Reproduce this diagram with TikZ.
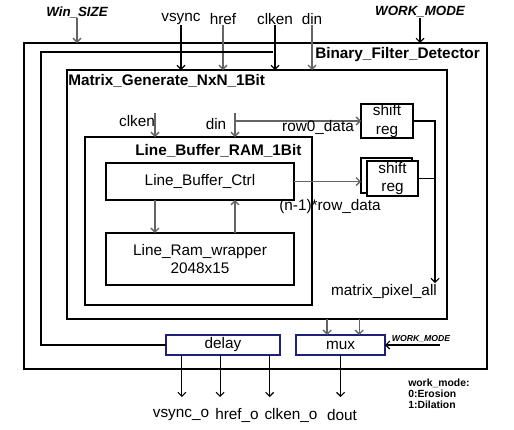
\documentclass[tikz,border=0pt]{standalone}
\usepackage{fontspec}
\setmainfont{Liberation Sans}
\usetikzlibrary{arrows.meta,calc}

\definecolor{boxblue}{RGB}{31,31,122}
\definecolor{arrgray}{RGB}{100,100,100}
\newcommand\lblfont{\fontsize{11.5}{14}\selectfont}
\newcommand\ttlfont{\fontsize{11.5}{14}\selectfont\bfseries}

\tikzset{
  sz/.style 2 args={minimum width=#1*0.75pt, minimum height=#2*0.75pt},
  frame/.style={draw, line width=2.2pt, inner sep=0pt, outer sep=0pt},
  blk/.style={draw, line width=0.9pt, fill=white, inner sep=0pt, outer sep=0pt, align=center, font=\lblfont},
  pbox/.style={blk, draw=boxblue},
  txt/.style={inner sep=0pt, font=\lblfont},
  sig/.style={draw, line width=0.8pt, -{Straight Barb[length=3pt,width=6pt]}},
  gsig/.style={sig, draw=arrgray, line width=1pt},
}

\begin{document}
\begin{tikzpicture}[x=0.75pt,y=-0.75pt]
\useasboundingbox (0,0) rectangle (514,429);

% frames
\node[frame, sz={463}{326}] (bfd) at (255.5,206) {};
\node[frame, sz={380}{249}] (mgen) at (257,194.5) {};
\node[frame, sz={227}{168}] (lbr) at (198.5,221) {};
\node[txt, font=\ttlfont, anchor=west] (bfdname) at (315,55) {Binary\_Filter\_Detector};
\node[txt, font=\ttlfont, anchor=west] (mgenname) at (68,81) {Matrix\_Generate\_NxN\_1Bit};
\node[txt, font=\ttlfont, anchor=west] (lbrname) at (135,151) {Line\_Buffer\_RAM\_1Bit};

% blocks
\node[blk, sz={188}{37}] (ctrl) at (200,181.5) {Line\_Buffer\_Ctrl};
\node[blk, sz={188}{52}] (ram) at (200,259) {Line\_Ram\_wrapper\\2048x15};
\node[blk, sz={52}{34}] (sr0) at (387,121) {shift\\reg};
\node[blk, sz={51}{35}] (srback) at (386.5,175.5) {};
\node[blk, sz={51}{35}] (sr1) at (392.5,178.5) {shift\\reg};
\node[pbox, sz={114}{20}] (delay) at (223,345) {delay};
\node[pbox, sz={89}{20}] (mux) at (340.5,345) {mux};

% inputs
\node[txt, font=\fontsize{10}{12}\selectfont\bfseries\itshape] (winsize) at (77,12) {Win\_SIZE};
\node[txt, font=\fontsize{10}{12}\selectfont\bfseries\itshape] (workmode) at (420,12) {WORK\_MODE};
\node[txt] (vsync) at (181,19) {vsync};
\node[txt] (href) at (223,19) {href};
\node[txt] (clken) at (275,19) {clken};
\node[txt] (din) at (312,19) {din};

\draw[gsig] (winsize.south) -- (winsize.south |- bfd.north);
\draw[sig] (workmode.south) -- (workmode.south |- bfd.north);
\draw[sig] (vsync.south) -- (vsync.south |- mgen.north);
\draw[gsig] (href.south) -- (href.south |- mgen.north);
\draw[sig] (clken.south) -- (clken.south |- mgen.north);
\draw[gsig] (din.south) -- (din.south |- mgen.north);

% window size line
\coordinate (wstart) at (273,52);
\coordinate (wtop) at (41,52);
\draw[line width=0.8pt] (wstart) -- (wtop) |- (delay.west);

% line buffer
\node[txt] (clkin) at (137,121) {clken};
\node[txt] (dinin) at (216,124) {din};
\coordinate (clktap) at (155,113);
\coordinate (dintap) at (235,113);
\draw[gsig] (clktap) -- (clktap |- lbr.north);
\draw[gsig] (dintap) -- (dintap |- lbr.north);
\draw[gsig] (dintap |- sr0.west) -- (sr0.west);
\draw[gsig] ($(ctrl.south west)!0.26!(ctrl.south east)$) -- ($(ram.north west)!0.26!(ram.north east)$);
\draw[gsig] ($(ram.north west)!0.686!(ram.north east)$) -- ($(ctrl.south west)!0.686!(ctrl.south east)$);
\draw[gsig] (ctrl.east) -- (ctrl.east -| srback.west);
\node[txt] (row0) at (318,127) {row0\_data};
\node[txt] (rown) at (330,207) {(n-1)*row\_data};

% pixel bus
\coordinate (pixall) at (435,283);
\draw[sig] (sr0.east) -| (pixall);
\draw[line width=0.8pt] (sr1.east) -- (sr1.east -| pixall);
\node[txt] (pixname) at (384,292) {matrix\_pixel\_all};

% mux
\coordinate (mx1) at ($(mux.north west)!0.35!(mux.north east)$);
\coordinate (mx2) at ($(mux.north west)!0.71!(mux.north east)$);
\draw[gsig] (mx1 |- mgen.south) -- (mx1);
\draw[gsig] (mx2 |- mgen.south) -- (mx2);
\node[txt, font=\fontsize{6.5}{8}\selectfont\bfseries\itshape] (wmsmall) at (421,339) {WORK\_MODE};
\coordinate (wmtap) at (440,345);
\draw[sig] (wmtap) -- (mux.east);

% outputs
\coordinate (outline) at (0,397);
\foreach \f/\n in {0.14/vo,0.474/ho,0.91/co} {
  \coordinate (\n) at ($(delay.south west)!\f!(delay.south east)$);
  \draw[sig] (\n) -- (\n |- outline);
}
\draw[sig] (mux.south) -- (mux.south |- outline);
\node[txt] (vsynco) at (181,415) {vsync\_o};
\node[txt] (hrefo) at (237,415) {href\_o};
\node[txt] (clkeno) at (291,415) {clken\_o};
\node[txt] (dout) at (342,415) {dout};

\node[txt, font=\fontsize{7.8}{8.3}\selectfont\bfseries, anchor=north west, align=left] (modes) at (408,379) {work\_mode:\\0:Erosion\\1:Dilation};

\end{tikzpicture}
\end{document}
